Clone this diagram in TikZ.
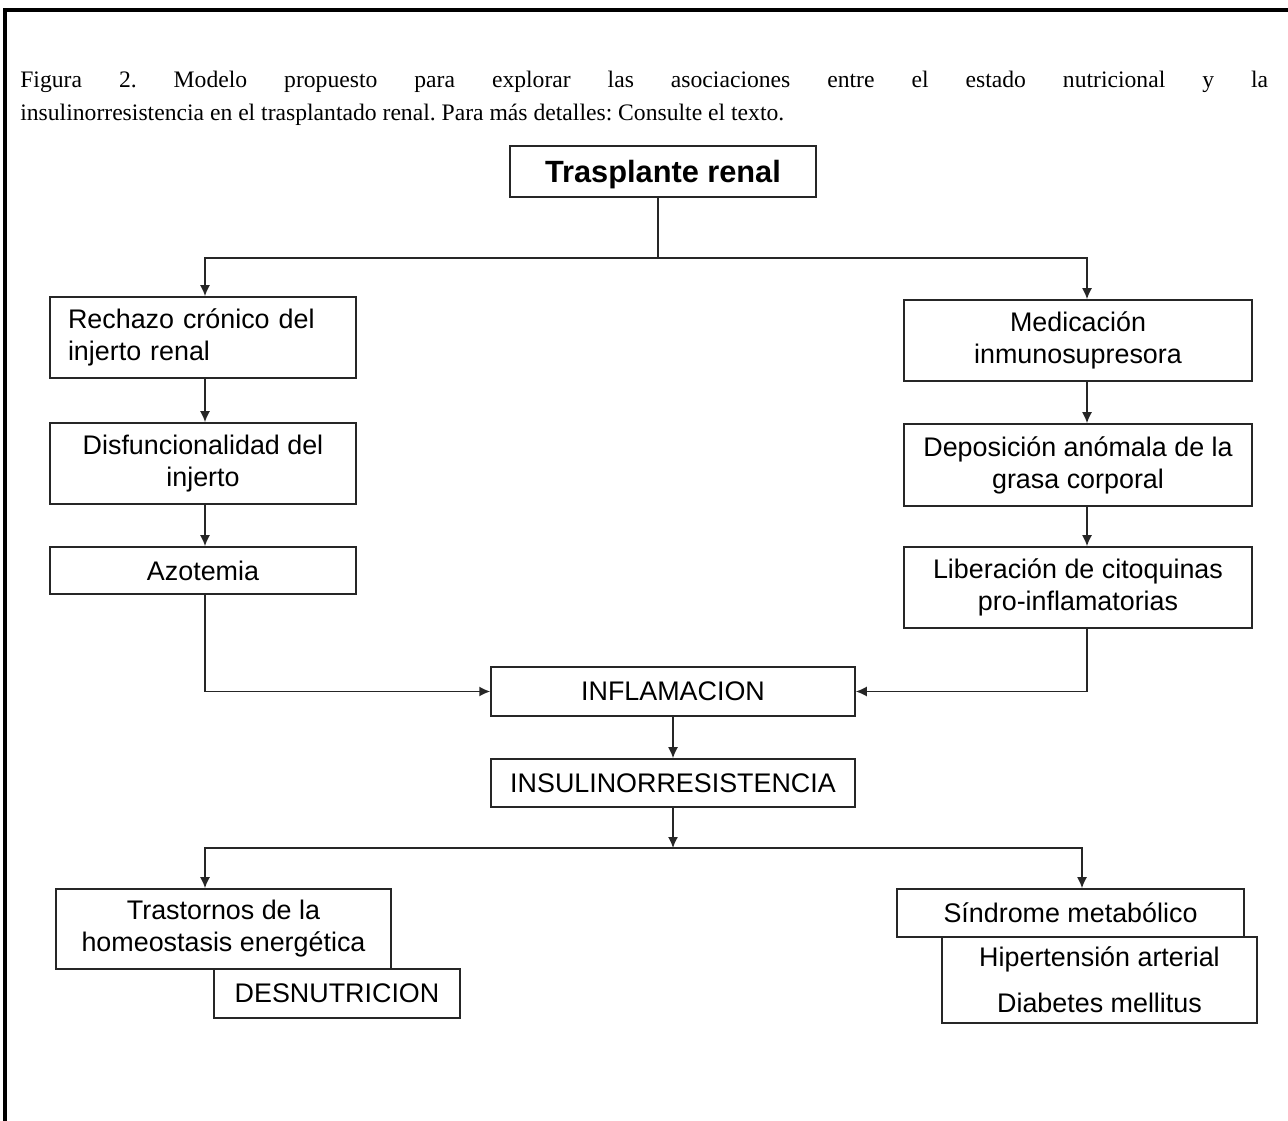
\documentclass[tikz,border=0pt]{standalone}
\usepackage{fontspec}
\setmainfont{Liberation Serif}
\setsansfont{Liberation Sans}
\usetikzlibrary{arrows.meta}

\begin{document}
\begin{tikzpicture}[x=0.02cm,y=-0.02cm,>={Latex[length=2.2mm,width=2mm]},
  box/.style={draw=black!85,line width=0.9pt,inner sep=0pt,align=center,
    font=\sffamily\fontsize{15.3pt}{18.2pt}\selectfont},
  wire/.style={draw=black!85,line width=0.9pt}]
  \useasboundingbox (0,0) rectangle (1288,1121);
  \draw[line width=2.3pt] (5,1200) -- (5,10) -- (1350,10);

  \node[anchor=north west,inner sep=0pt,text width=24.96cm,align=justify,
    font=\frenchspacing\fontsize{13.45pt}{18.4pt}\selectfont] (cap) at (20,71)
    {Figura 2. Modelo propuesto para explorar las asociaciones entre el estado nutricional y la\linebreak
     insulinorresistencia en el trasplantado renal. Para más detalles: Consulte el texto.};

  \node[box,font=\sffamily\bfseries\fontsize{17.5pt}{20pt}\selectfont,text depth=0pt,
    minimum width=6.12cm,minimum height=1.02cm] (tr) at (663,171.5) {Trasplante renal};

  % columna izquierda
  \node[box,align=left,text width=5.4cm,inner xsep=0.36cm,minimum height=1.62cm] (rech) at (203,337.5) {Rechazo crónico del\\injerto renal};
  \node[box,minimum width=6.12cm,minimum height=1.62cm] (disf) at (203,463.5) {Disfuncionalidad del\\injerto};
  \node[box,minimum width=6.12cm,minimum height=0.94cm] (azot) at (203,570.5) {Azotemia};

  % columna derecha
  \node[box,minimum width=6.96cm,minimum height=1.62cm] (medi) at (1078,340.5) {Medicación\\inmunosupresora};
  \node[box,minimum width=6.96cm,minimum height=1.64cm] (depo) at (1078,465) {Deposición anómala de la\\grasa corporal};
  \node[box,minimum width=6.96cm,minimum height=1.62cm] (libe) at (1078,587.5) {Liberación de citoquinas\\pro-inflamatorias};

  \node[box,minimum width=7.28cm,minimum height=0.98cm] (infl) at (673,691.5) {INFLAMACION};
  \node[box,minimum width=7.28cm,minimum height=0.96cm] (insu) at (673,783) {INSULINORRESISTENCIA};

  % abajo
  \node[box,minimum width=6.7cm,minimum height=1.6cm] (tras) at (223.5,929) {Trastornos de la\\homeostasis energética};
  \node[box,minimum width=4.92cm,minimum height=0.98cm] (desn) at (337,993.5) {DESNUTRICION};
  \node[box,minimum width=6.94cm,minimum height=0.96cm] (sind) at (1070.5,913) {Síndrome metabólico};
  \node[box,minimum width=6.3cm,minimum height=1.72cm] (hipe) at (1099.5,980) {Hipertensión arterial\\[7.8pt]Diabetes mellitus};

  \coordinate (lc) at (205,0);
  \coordinate (rc) at (1087,0);
  \coordinate (rb) at (1082,0);
  \coordinate (top) at (658,258);
  \coordinate (bot) at (673,848);

  \draw[wire] (tr.south -| top) -- (top);
  \draw[wire,->] (top) -| (rech.north -| lc);
  \draw[wire,->] (top) -| (medi.north -| rc);
  \draw[wire,->] (rech.south -| lc) -- (disf.north -| lc);
  \draw[wire,->] (disf.south -| lc) -- (azot.north -| lc);
  \draw[wire,->] (azot.south -| lc) |- (infl.west);
  \draw[wire,->] (medi.south -| rc) -- (depo.north -| rc);
  \draw[wire,->] (depo.south -| rc) -- (libe.north -| rc);
  \draw[wire,->] (libe.south -| rc) |- (infl.east);
  \draw[wire,->] (infl) -- (insu);
  \draw[wire,->] (insu) -- (bot);
  \draw[wire,->] (bot) -| (tras.north -| lc);
  \draw[wire,->] (bot) -| (sind.north -| rb);
\end{tikzpicture}
\end{document}
